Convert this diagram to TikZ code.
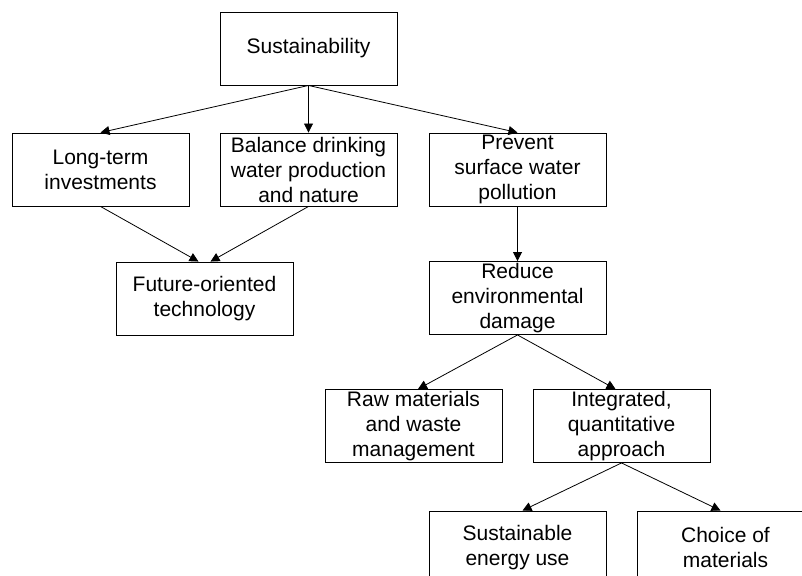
\documentclass[tikz,border=0pt]{standalone}
\usepackage{fontspec}
\setmainfont{Liberation Sans}
\usetikzlibrary{arrows.meta}
\begin{document}
\begin{tikzpicture}[x=1pt,y=-1pt,
  box/.style={draw=black,line width=0.9pt,rectangle,minimum width=177pt,minimum height=73pt,
    inner sep=0pt,align=center,font=\fontsize{21}{25}\selectfont},
  conn/.style={draw=black,line width=0.8pt,-{Triangle[length=9pt,width=9pt]}}]
\useasboundingbox (0,0) rectangle (802,575);
\clip (0,0) rectangle (802,575);
\node[box] (sus) at (308.5,48.5) {Sustainability};
\node[box] (lt) at (100.5,169.5) {Long-term\\investments};
\node[box] (bal) at (308.5,169.5) {Balance drinking\\water production\\and nature};
\node[box] (prev) at (517.5,169.5) {Prevent\\surface water\\pollution};
\node[box] (fut) at (204.5,298.5) {Future-oriented\\technology};
\node[box] (red) at (517.5,298) {Reduce\\environmental\\damage};
\node[box] (raw) at (413.5,426) {Raw materials\\and waste\\management};
\node[box] (int) at (621.5,426) {Integrated,\\quantitative\\approach};
\node[box] (sen) at (517.5,547.5) {Sustainable\\energy use};
\node[box] (cho) at (725.5,547.5) {Choice of\\materials};
\draw[conn] (sus.south) -- (lt.north);
\draw[conn] (sus.south) -- (bal.north);
\draw[conn] (sus.south) -- (prev.north);
\draw[conn] (lt.south) -- ([xshift=-6pt]fut.north);
\draw[conn] (bal.south) -- ([xshift=6pt]fut.north);
\draw[conn] (prev.south) -- (red.north);
\draw[conn] (red.south) -- ([xshift=4.5pt]raw.north);
\draw[conn] (red.south) -- ([xshift=-6pt]int.north);
\draw[conn] (int.south) -- ([xshift=5pt]sen.north);
\draw[conn] (int.south) -- ([xshift=-5pt]cho.north);
\end{tikzpicture}
\end{document}
